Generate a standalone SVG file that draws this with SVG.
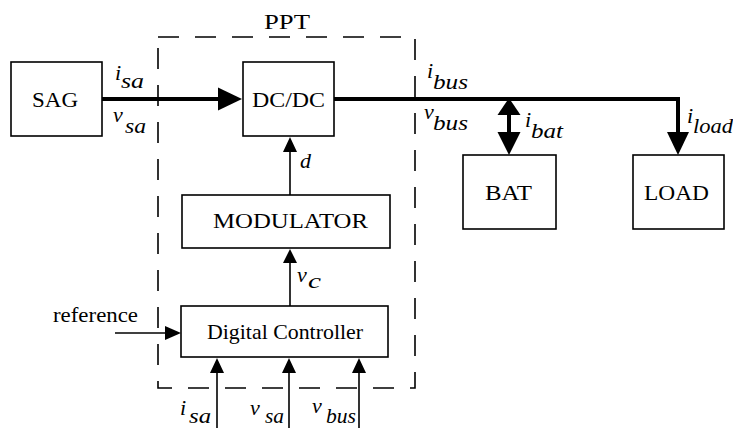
<svg xmlns="http://www.w3.org/2000/svg" width="733" height="428" viewBox="0 0 733 428">
<style>
.box{fill:#fff;stroke:#000;stroke-width:1.6}
.lbl{font-family:"Liberation Serif","Times New Roman",serif;font-size:22px;fill:#000}
.it{font-family:"Liberation Serif","Times New Roman",serif;font-style:italic;font-size:22px;fill:#000}
.thick{stroke:#000;stroke-width:4;fill:none}
.thin{stroke:#000;stroke-width:1.6;fill:none}
.head{fill:#000}
.dash{fill:none;stroke:#000;stroke-width:1.6;stroke-dasharray:21 16}
</style>
<rect width="733" height="428" fill="#fff"/>
<g id="ppt">
<path class="dash" d="M158,37 H415 V388 H158 Z"/>
<text class="lbl" x="264" y="29" textLength="46" lengthAdjust="spacingAndGlyphs">PPT</text>
</g>
<g id="connectors">
<line class="thick" x1="102" y1="99" x2="220" y2="99"/>
<polygon class="head" points="218,87.5 242,99 218,110.5"/>
<polyline class="thick" points="334,99 678,99 678,134"/>
<polygon class="head" points="667,132 689,132 678,155"/>
<line class="thick" x1="509" y1="113" x2="509" y2="134"/>
<polygon class="head" points="497.5,115 520.5,115 509,98"/>
<polygon class="head" points="497.5,132 520.5,132 509,155"/>
<line class="thin" x1="290" y1="195" x2="290" y2="150"/>
<polygon class="head" points="283,152 297,152 290,137"/>
<line class="thin" x1="290" y1="306" x2="290" y2="261"/>
<polygon class="head" points="283,263 297,263 290,249"/>
<line class="thin" x1="115" y1="333" x2="167" y2="333"/>
<polygon class="head" points="165,326 165,340 181,333"/>
<line class="thin" x1="217" y1="428" x2="217" y2="371"/>
<polygon class="head" points="210,373 224,373 217,358"/>
<line class="thin" x1="289" y1="428" x2="289" y2="371"/>
<polygon class="head" points="282,373 296,373 289,358"/>
<line class="thin" x1="359" y1="428" x2="359" y2="371"/>
<polygon class="head" points="352,373 366,373 359,358"/>
<text class="it" x="115" y="80">i<tspan x="121" y="88" textLength="23" lengthAdjust="spacingAndGlyphs">sa</tspan></text>
<text class="it" x="113" y="122">v<tspan x="125" y="133" textLength="21" lengthAdjust="spacingAndGlyphs">sa</tspan></text>
<text class="it" x="427" y="78">i<tspan x="433" y="89" textLength="35" lengthAdjust="spacingAndGlyphs">bus</tspan></text>
<text class="it" x="424" y="119">v<tspan x="433" y="130" textLength="35" lengthAdjust="spacingAndGlyphs">bus</tspan></text>
<text class="it" x="525" y="127">i<tspan x="531" y="138" textLength="32" lengthAdjust="spacingAndGlyphs">bat</tspan></text>
<text class="it" x="687" y="123">i<tspan x="693" y="133" textLength="40" lengthAdjust="spacingAndGlyphs">load</tspan></text>
<text class="it" x="300" y="168">d</text>
<text class="it" x="297" y="282">v<tspan x="308" y="288" textLength="13" lengthAdjust="spacingAndGlyphs">c</tspan></text>
<text class="it" x="180" y="415">i<tspan x="189" y="423" textLength="22" lengthAdjust="spacingAndGlyphs">sa</tspan></text>
<text class="it" x="250" y="415">v<tspan x="265" y="423" textLength="19" lengthAdjust="spacingAndGlyphs">sa</tspan></text>
<text class="it" x="312" y="413">v<tspan x="326" y="423" textLength="30" lengthAdjust="spacingAndGlyphs">bus</tspan></text>
<text class="lbl" x="53" y="322" textLength="85" lengthAdjust="spacingAndGlyphs">reference</text>
</g>
<g id="sag">
<rect class="box" x="11" y="62" width="91" height="74"/>
<text class="lbl" x="32" y="107" textLength="46" lengthAdjust="spacingAndGlyphs">SAG</text>
</g>
<g id="dcdc">
<rect class="box" x="243" y="62" width="91" height="74"/>
<text class="lbl" x="252" y="107" textLength="73" lengthAdjust="spacingAndGlyphs">DC/DC</text>
</g>
<g id="modulator">
<rect class="box" x="182" y="195" width="208" height="53"/>
<text class="lbl" x="213" y="228" textLength="155" lengthAdjust="spacingAndGlyphs">MODULATOR</text>
</g>
<g id="controller">
<rect class="box" x="181" y="306" width="207" height="51"/>
<text class="lbl" x="207" y="339" textLength="156" lengthAdjust="spacingAndGlyphs">Digital Controller</text>
</g>
<g id="bat">
<rect class="box" x="463" y="155" width="93" height="74"/>
<text class="lbl" x="485" y="200" textLength="47" lengthAdjust="spacingAndGlyphs">BAT</text>
</g>
<g id="load">
<rect class="box" x="633" y="155" width="91" height="74"/>
<text class="lbl" x="644" y="200" textLength="65" lengthAdjust="spacingAndGlyphs">LOAD</text>
</g>
</svg>
